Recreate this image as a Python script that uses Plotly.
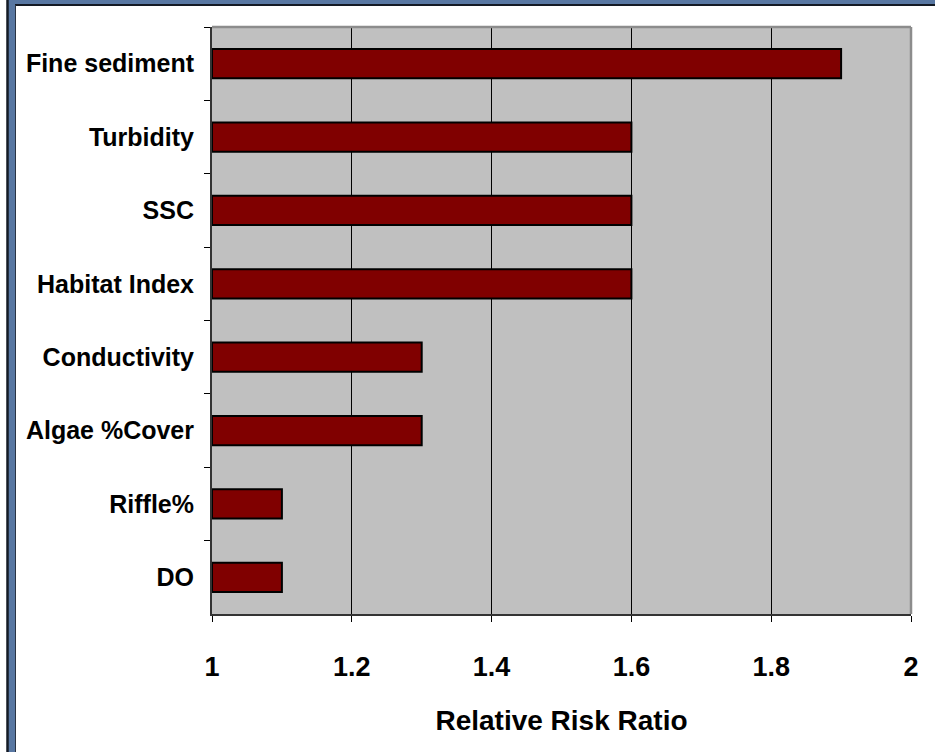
import plotly.graph_objects as go

# Relative risk ratios for each stressor (top to bottom)
categories = ["Fine sediment", "Turbidity", "SSC", "Habitat Index",
              "Conductivity", "Algae %Cover", "Riffle%", "DO"]
risk_ratio = [1.9, 1.6, 1.6, 1.6, 1.3, 1.3, 1.1, 1.1]
x_ticks = [1, 1.2, 1.4, 1.6, 1.8, 2]
x_tick_labels = ["1", "1.2", "1.4", "1.6", "1.8", "2"]

W, H = 935, 752
L, R, T, B = 212, 24, 27, 138
PW, PH = W - L - R, H - T - B

FONT = "Liberation Sans, Arial, sans-serif"


def px_x(p):
    return (p - L) / PW


def px_y(p):
    return 1 - (p - T) / PH


fig = go.Figure(go.Bar(
    x=[v - 1 for v in risk_ratio],
    base=1,
    y=categories,
    orientation="h",
    width=0.4,
    marker=dict(color="#800000", line=dict(color="#000000", width=2)),
    hoverinfo="skip",
))

blue = "#5877a2"
dark = "#141a24"
shapes = [
    # outer frame band (top and left)
    dict(type="rect", xref="paper", yref="paper", x0=px_x(8), x1=px_x(W), y0=px_y(0), y1=px_y(4.5),
         fillcolor=blue, line=dict(width=0), layer="above"),
    dict(type="rect", xref="paper", yref="paper", x0=px_x(8), x1=px_x(15), y0=px_y(0), y1=px_y(H),
         fillcolor=blue, line=dict(width=0), layer="above"),
    dict(type="line", xref="paper", yref="paper", x0=px_x(15), x1=px_x(W), y0=px_y(5), y1=px_y(5),
         line=dict(color=dark, width=2), layer="above"),
    dict(type="line", xref="paper", yref="paper", x0=px_x(7.5), x1=px_x(7.5), y0=px_y(0), y1=px_y(H),
         line=dict(color=dark, width=2.5), layer="above"),
    dict(type="line", xref="paper", yref="paper", x0=px_x(15.5), x1=px_x(15.5), y0=px_y(5), y1=px_y(H),
         line=dict(color="#2a3444", width=1), layer="above"),
    # plot-area border: grey on top and right
    dict(type="line", xref="paper", yref="paper", x0=0, x1=1, y0=1, y1=1,
         line=dict(color="#8c8c8c", width=2.5), layer="above"),
    dict(type="line", xref="paper", yref="paper", x0=1, x1=1, y0=0, y1=1,
         line=dict(color="#8c8c8c", width=2.5), layer="above"),
]

fig.update_layout(
    width=W, height=H,
    margin=dict(l=L, r=R, t=T, b=B),
    paper_bgcolor="#ffffff",
    plot_bgcolor="#c0c0c0",
    showlegend=False,
    font=dict(family=FONT, color="#000000", size=25, weight="bold"),
    shapes=shapes,
    xaxis=dict(
        range=[1, 2],
        tickvals=x_ticks,
        ticktext=x_tick_labels,
        ticks="outside", ticklen=6, tickwidth=1, tickcolor="#000000",
        showgrid=True, gridcolor="#000000", gridwidth=1,
        zeroline=False,
        showline=True, linecolor="#333333", linewidth=2,
        tickfont=dict(family=FONT, size=27, weight="bold"),
        ticklabelstandoff=22,
        title=dict(text="Relative Risk Ratio", standoff=29,
                   font=dict(family=FONT, size=28, weight="bold")),
    ),
    yaxis=dict(
        categoryorder="array", categoryarray=categories,
        autorange="reversed",
        tickson="boundaries",
        ticks="outside", ticklen=6, tickwidth=1, tickcolor="#000000",
        showgrid=False,
        showline=True, linecolor="#333333", linewidth=2,
        tickfont=dict(family=FONT, size=25, weight="bold"),
        ticklabelstandoff=11,
    ),
    bargap=0.6,
)

fig.write_html("out.html")
